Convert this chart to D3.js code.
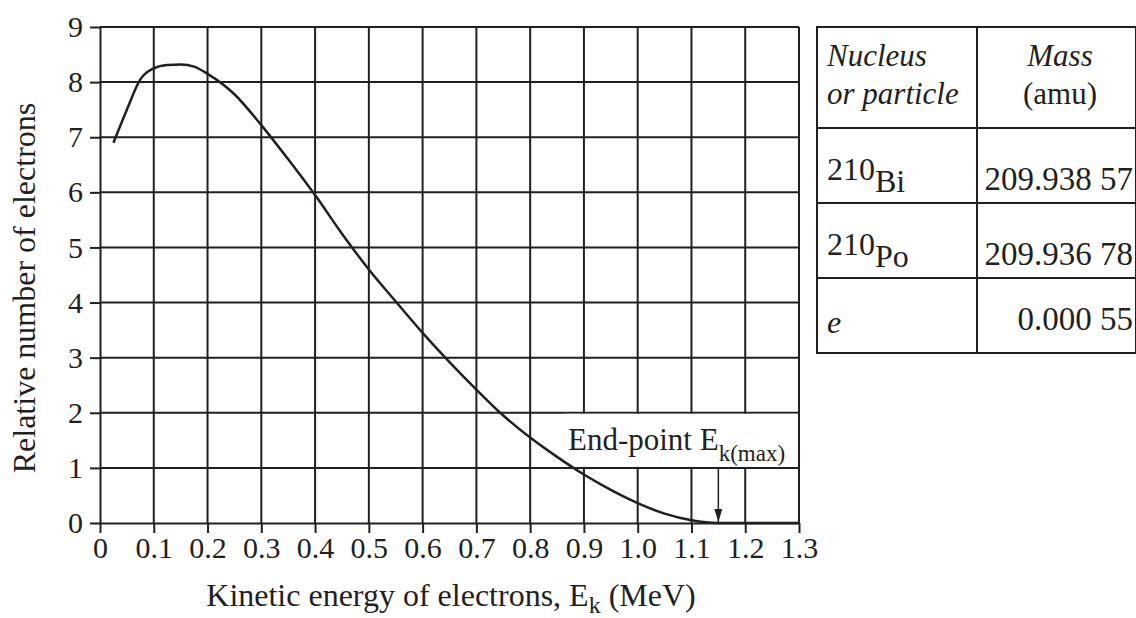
<!DOCTYPE html>
<html>
<body style="margin:0">
<script src="https://d3js.org/d3.v7.min.js"></script>
<script>

    // beta spectrum of 210Bi
    var energies = [0.025, 0.05, 0.075, 0.1, 0.125, 0.15, 0.175, 0.2, 0.25, 0.3, 0.35, 0.4, 0.45, 0.5,
                    0.55, 0.6, 0.65, 0.7, 0.75, 0.8, 0.85, 0.9, 0.95, 1.0, 1.05, 1.1, 1.15, 1.2, 1.3];
    var electrons = [6.9, 7.5, 8.05, 8.25, 8.31, 8.32, 8.28, 8.15, 7.78, 7.22, 6.6, 5.95, 5.25, 4.6,
                     4.02, 3.45, 2.92, 2.42, 1.95, 1.55, 1.2, 0.88, 0.6, 0.36, 0.17, 0.05, 0, 0, 0];
    var xTicks = [0, 0.1, 0.2, 0.3, 0.4, 0.5, 0.6, 0.7, 0.8, 0.9, 1.0, 1.1, 1.2, 1.3];
    var yTicks = [0, 1, 2, 3, 4, 5, 6, 7, 8, 9];
    var endPoint = 1.15;

    // table at the right
    var headLeft = ['Nucleus', 'or particle'];
    var headRight = ['Mass', '(amu)'];
    var massNumbers = ['210', '210', ''];
    var symbols = ['Bi', 'Po', 'e'];
    var masses = ['209.938 57', '209.936 78', '0.000 55'];

    var ink = '#231f20';

    var svg = d3.select('body')
                .append('svg')
                    .attr('width', 1136)
                    .attr('height', 618);

    var x = d3.scaleLinear().domain([0, 1.3]).range([100, 799]);
    var y = d3.scaleLinear().domain([0, 9]).range([523, 27]);

    // grid
    svg.append('g').selectAll('line')
        .data(xTicks.slice(1))
        .enter().append('line')
            .attr('x1', function(d) { return x(d); })
            .attr('x2', function(d) { return x(d); })
            .attr('y1', y(0))
            .attr('y2', y(9))
            .attr('stroke', ink)
            .attr('stroke-width', 2);

    svg.append('g').selectAll('line')
        .data(yTicks.slice(1))
        .enter().append('line')
            .attr('x1', x(0))
            .attr('x2', x(1.3))
            .attr('y1', function(d) { return y(d); })
            .attr('y2', function(d) { return y(d); })
            .attr('stroke', ink)
            .attr('stroke-width', 2);

    // white box behind the end-point label
    svg.append('rect')
        .attr('x', x(0.865))
        .attr('y', y(2) + 1)
        .attr('width', x(1.3) - x(0.865) - 1)
        .attr('height', y(1) - y(2) - 2)
        .attr('fill', '#fff');

    // axes
    var xAxis = d3.axisBottom(x)
                    .tickValues(xTicks)
                    .tickSize(10)
                    .tickSizeOuter(0)
                    .tickPadding(4)
                    .tickFormat(function(d) { return d === 0 ? '0' : d3.format('.1f')(d); });
    var yAxis = d3.axisLeft(y)
                    .tickValues(yTicks)
                    .tickSize(10)
                    .tickSizeOuter(0)
                    .tickPadding(7);

    var gx = svg.append('g').attr('transform', 'translate(0,' + y(0) + ')').call(xAxis);
    var gy = svg.append('g').attr('transform', 'translate(' + x(0) + ',0)').call(yAxis);
    [gx, gy].forEach(function(g) {
        g.attr('font-family', 'Liberation Serif').attr('font-size', 30);
        g.selectAll('path, line').attr('stroke', ink).attr('stroke-width', 2);
        g.selectAll('text').attr('fill', ink);
    });

    // curve
    var line = d3.line()
                .x(function(d, i) { return x(energies[i]); })
                .y(function(d) { return y(d); })
                .curve(d3.curveMonotoneX);

    svg.append('path')
        .datum(electrons)
        .attr('d', line)
        .attr('fill', 'none')
        .attr('stroke', ink)
        .attr('stroke-width', 2.5);

    // end-point arrow
    svg.append('defs').append('marker')
        .attr('id', 'head')
        .attr('viewBox', '0 0 10 10')
        .attr('refX', 10).attr('refY', 5)
        .attr('markerWidth', 13).attr('markerHeight', 8)
        .attr('markerUnits', 'userSpaceOnUse')
        .attr('orient', 'auto')
        .attr('preserveAspectRatio', 'none')
        .append('path')
            .attr('d', 'M0,0L10,5L0,10Z')
            .attr('fill', ink);

    svg.append('line')
        .attr('x1', x(endPoint)).attr('x2', x(endPoint))
        .attr('y1', y(1)).attr('y2', y(0) - 1)
        .attr('stroke', ink)
        .attr('stroke-width', 1.5)
        .attr('marker-end', 'url(#head)');

    var ep = svg.append('text')
        .attr('x', 568)
        .attr('y', 450)
        .attr('font-size', 31)
        .attr('fill', ink);
    ep.append('tspan').text('End-point E');
    ep.append('tspan').attr('dy', 11).attr('font-size', 23).text('k(max)');

    // axis titles
    var xt = svg.append('text')
        .attr('x', 451)
        .attr('y', 606)
        .attr('text-anchor', 'middle')
        .attr('font-size', 32)
        .attr('fill', ink);
    xt.append('tspan').text('Kinetic energy of electrons, E');
    xt.append('tspan').attr('dy', 7).attr('font-size', 24).text('k');
    xt.append('tspan').attr('dy', -7).text(' (MeV)');

    svg.append('text')
        .attr('transform', 'translate(35,288) rotate(-90)')
        .attr('text-anchor', 'middle')
        .attr('font-size', 32)
        .attr('fill', ink)
        .text('Relative number of electrons');

    // table
    var tLeft = 817, tMid = 977, tRight = 1137;
    var rows = [27, 128, 203, 278, 353];
    var tg = svg.append('g').attr('fill', ink);
    tg.selectAll('line.row')
        .data(rows)
        .enter().append('line')
            .attr('x1', tLeft - 1).attr('x2', tRight)
            .attr('y1', function(d) { return d; })
            .attr('y2', function(d) { return d; })
            .attr('stroke', ink).attr('stroke-width', 2);
    [tLeft, tMid, tRight - 1].forEach(function(cx) {
        tg.append('line')
            .attr('x1', cx).attr('x2', cx)
            .attr('y1', rows[0] - 1).attr('y2', rows[4] + 1)
            .attr('stroke', ink).attr('stroke-width', 2);
    });

    headLeft.forEach(function(t, i) {
        tg.append('text')
            .attr('x', 827).attr('y', 66 + i * 38)
            .attr('font-size', 31).attr('font-style', 'italic')
            .text(t);
    });
    headRight.forEach(function(t, i) {
        tg.append('text')
            .attr('x', 1060).attr('y', 66 + i * 38)
            .attr('text-anchor', 'middle')
            .attr('font-size', 31).attr('font-style', i === 0 ? 'italic' : 'normal')
            .text(t);
    });

    symbols.forEach(function(s, i) {
        var mid = (rows[i + 1] + rows[i + 2]) / 2;
        var t = tg.append('text')
            .attr('x', 827)
            .attr('y', mid + (massNumbers[i] ? 14 : 17))
            .attr('font-size', 32);
        if (massNumbers[i]) {
            t.append('tspan').text(massNumbers[i]);
            t.append('tspan').attr('dy', 12).text(s);
        } else {
            t.attr('font-style', 'italic').text(s);
        }
        tg.append('text')
            .attr('x', 1133)
            .attr('y', mid + (massNumbers[i] ? 24 : 14))
            .attr('text-anchor', 'end')
            .attr('font-size', 33)
            .text(masses[i]);
    });

    // one serif face for every label
    svg.selectAll('text, tspan')
        .attr('font-family', 'Liberation Serif')
        .style('font-family', '"Liberation Serif"');

</script>
</body>
</html>
